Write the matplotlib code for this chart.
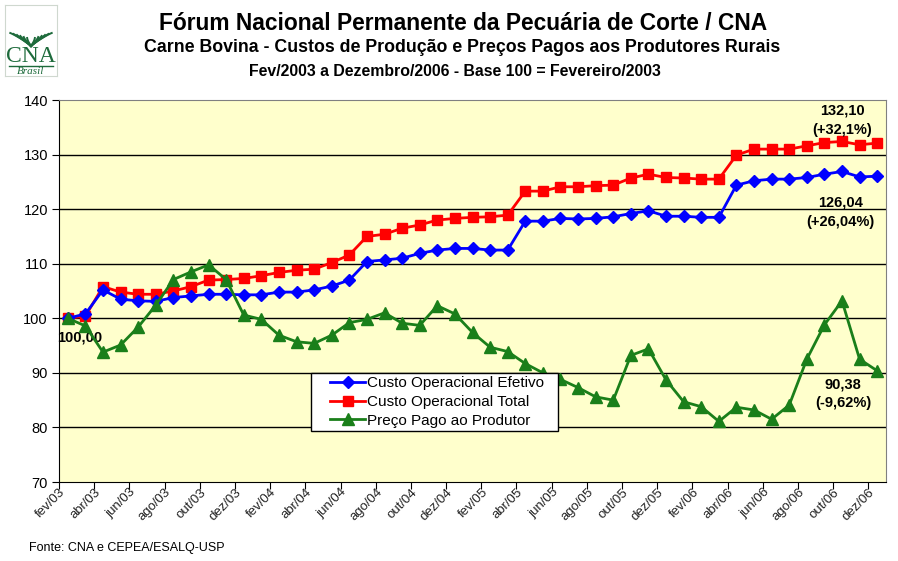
import matplotlib
matplotlib.use("Agg")
import matplotlib.pyplot as plt
from matplotlib.patches import Rectangle
import numpy as np

plt.rcParams['font.family'] = ['Liberation Sans', 'DejaVu Sans']

# dados (fev/2003 a dez/2006, base 100 = fev/2003)
meses = ['jan', 'fev', 'mar', 'abr', 'mai', 'jun', 'jul', 'ago', 'set', 'out', 'nov', 'dez']
periodos = [m + '/0' + str(a) for a in range(3, 7) for m in meses][1:]

custo_efetivo = [100.0, 100.8, 105.2, 103.5, 103.2, 103.1, 103.8, 104.1, 104.4, 104.4,
                 104.3, 104.3, 104.8, 104.8, 105.2, 105.9, 107.0, 110.4, 110.7, 111.0,
                 111.9, 112.5, 112.8, 112.8, 112.5, 112.5, 117.8, 117.8, 118.3, 118.2,
                 118.3, 118.6, 119.2, 119.7, 118.7, 118.7, 118.5, 118.5, 124.4, 125.2,
                 125.5, 125.5, 125.8, 126.4, 126.9, 125.9, 126.04]
custo_total = [100.0, 100.4, 105.8, 104.8, 104.4, 104.4, 105.0, 105.8, 107.0, 107.1,
               107.3, 107.8, 108.4, 108.8, 109.0, 110.2, 111.6, 115.0, 115.4, 116.5,
               117.1, 118.0, 118.3, 118.5, 118.6, 118.9, 123.3, 123.3, 124.1, 124.1,
               124.3, 124.4, 125.7, 126.4, 125.8, 125.7, 125.5, 125.5, 129.9, 131.0,
               131.0, 131.0, 131.6, 132.2, 132.4, 131.8, 132.10]
preco_produtor = [100.0, 98.6, 93.8, 95.1, 98.4, 102.4, 107.1, 108.5, 109.8, 107.1,
                  100.6, 99.8, 96.9, 95.7, 95.4, 96.9, 99.2, 99.8, 101.0, 99.1,
                  98.7, 102.3, 100.8, 97.4, 94.7, 93.9, 91.7, 90.0, 88.8, 87.3,
                  85.6, 85.0, 93.2, 94.4, 88.7, 84.7, 83.8, 81.1, 83.7, 83.2,
                  81.5, 84.1, 92.5, 98.8, 103.2, 92.5, 90.38]

x = np.arange(len(periodos))

fig = plt.figure(figsize=(8.98, 5.61), dpi=100)
ax = fig.add_axes([59/898, 1-482/561, 827/898, 382/561])
ax.set_facecolor('#FFFFCC')

ax.plot(x, custo_efetivo, color='#0000FF', lw=2.0, marker='D', ms=6, label='Custo Operacional Efetivo', zorder=4)
ax.plot(x, custo_total, color='#FF0000', lw=2.0, marker='s', ms=7.5, label='Custo Operacional Total', zorder=3)
ax.plot(x, preco_produtor, color='#1A7F1A', lw=2.0, marker='^', ms=8, label='Preço Pago ao Produtor', zorder=5)

# caixa da legenda desenhada a parte (margens como no original)
caixa = Rectangle((0.3047, 0.1335), 0.2987, 0.1518, transform=ax.transAxes,
                  facecolor='white', edgecolor='black', lw=1.0, zorder=8)
ax.add_patch(caixa)

ax.set_ylim(70, 140)
ax.set_xlim(-0.5, len(x) - 0.5)
ax.set_yticks(range(70, 141, 10))
ax.tick_params(axis='y', labelsize=10.5, length=5, direction='out', pad=3)
for v in range(80, 140, 10):
    ax.axhline(v, color='black', lw=1.0, zorder=1)

# marcas a cada 2 meses, rotulos no centro da categoria
ax.set_xticks(np.arange(-0.5, len(x), 2))
ax.set_xticklabels([])
ax.tick_params(axis='x', which='major', length=5, direction='out')
ax.set_xticks(x[::2], minor=True)
ax.set_xticklabels(periodos[::2], minor=True, rotation=45, ha='right', va='top',
                   fontsize=9.5, color='#222222')
ax.tick_params(axis='x', which='minor', length=0, pad=3)

for s in ['top', 'right']:
    ax.spines[s].set_color('#808080')

# rotulos dos valores
ax.text(0.69, 96.4, '100,00', fontsize=10.5, fontweight='bold', ha='center', va='center')
ax.text(44.0, 136.3, '132,10\n(+32,1%)', fontsize=10.5, fontweight='bold', ha='center', va='center', linespacing=1.45)
ax.text(43.9, 119.4, '126,04\n(+26,04%)', fontsize=10.5, fontweight='bold', ha='center', va='center', linespacing=1.45)
ax.text(44.05, 86.2, '90,38\n(-9,62%)', fontsize=10.5, fontweight='bold', ha='center', va='center', linespacing=1.45)

leg = ax.legend(loc='center left', bbox_to_anchor=(330/898, 1-402/561), bbox_transform=fig.transFigure,
                fontsize=11, frameon=False, borderpad=0, labelspacing=0.3,
                handlelength=2.3, handletextpad=0.1, borderaxespad=0)
leg.set_zorder(10)

# titulos
fig.text(463/898, 1-24/561, 'Fórum Nacional Permanente da Pecuária de Corte / CNA',
         fontsize=16.4, fontweight='bold', ha='center', va='center')
fig.text(462/898, 1-48/561, 'Carne Bovina - Custos de Produção e Preços Pagos aos Produtores Rurais',
         fontsize=12.8, fontweight='bold', ha='center', va='center')
fig.text(455/898, 1-71/561, 'Fev/2003 a Dezembro/2006 - Base 100 = Fevereiro/2003',
         fontsize=11.4, fontweight='bold', ha='center', va='center')
fig.text(29/898, 1-548/561, 'Fonte: CNA e CEPEA/ESALQ-USP', fontsize=9, ha='left', va='center')

# logo simples CNA
lg = fig.add_axes([5/898, 1-76/561, 52/898, 71/561])
lg.set_xlim(0, 52)
lg.set_ylim(0, 71)
lg.set_xticks([])
lg.set_yticks([])
for s in lg.spines.values():
    s.set_color('#cfd8cf')
verde = '#1E6B3C'
t = np.linspace(0, 1, 30)
for k in range(6):
    lg.plot(26 - (4 + 3.5*k)*np.sin(t*1.3), 30 + (8 + 3*k)*t - 2*k*t**2, color=verde, lw=1.4)
    lg.plot(26 + (4 + 3.5*k)*np.sin(t*1.3), 30 + (8 + 3*k)*t - 2*k*t**2, color=verde, lw=1.4)
lg.text(26, 20, 'CNA', family='Liberation Serif', fontsize=17, color=verde, ha='center', va='center')
lg.plot([4, 48], [10, 10], color=verde, lw=1)
lg.text(26, 5, 'Brasil', family='Liberation Serif', style='italic', fontsize=8, color=verde, ha='center', va='center')

fig.savefig('out.png', dpi=100)
